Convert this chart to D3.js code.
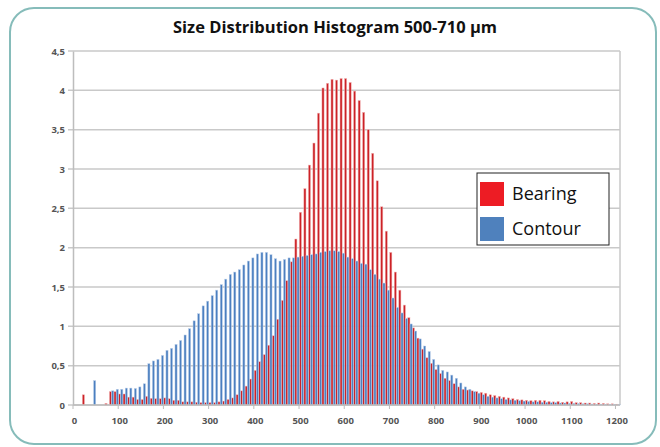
<!DOCTYPE html>
<html>
<head>
<meta charset="utf-8">
<style>
  body { margin: 0; padding: 0; background: #fff; }
  svg text { font-family: "Open Sans", "DejaVu Sans", sans-serif; }
</style>
</head>
<body>
<div id="chart"></div>
<script src="https://cdn.jsdelivr.net/npm/d3@7"></script>
<script>
  // size bins, 0..1200 in steps of 10 µm
  var bins = d3.range(0, 1210, 10);

  var bearing = [
    0, 0, 0.13, 0, 0, 0, 0, 0.02, 0.17, 0.17,
    0.14, 0.14, 0.10, 0.10, 0.07, 0.07, 0.11, 0.085, 0.08, 0.08,
    0.09, 0.08, 0.06, 0.06, 0.04, 0.04, 0.04, 0.035, 0.03, 0.03,
    0.03, 0.03, 0.04, 0.05, 0.07, 0.09, 0.13, 0.18, 0.24, 0.33,
    0.44, 0.55, 0.64, 0.76, 0.88, 1.09, 1.33, 1.58, 1.82, 2.11,
    2.45, 2.75, 3.05, 3.33, 3.71, 4.03, 4.09, 4.14, 4.13, 4.15,
    4.15, 4.10, 3.99, 3.87, 3.72, 3.50, 3.20, 2.85, 2.52, 2.21,
    1.94, 1.69, 1.46, 1.27, 1.11, 0.98, 0.85, 0.71, 0.60, 0.53,
    0.45, 0.40, 0.34, 0.31, 0.27, 0.23, 0.20, 0.19, 0.18, 0.17,
    0.16, 0.15, 0.13, 0.12, 0.11, 0.10, 0.09, 0.08, 0.07, 0.065,
    0.06, 0.055, 0.06, 0.06, 0.055, 0.045, 0.04, 0.045, 0.035, 0.04,
    0.045, 0.03, 0.03, 0.025, 0.025, 0.02, 0.025, 0.02, 0.015, 0.015,
    0.01
  ];

  var contour = [
    0, 0, 0, 0, 0.31, 0, 0, 0, 0.18, 0.20,
    0.20, 0.215, 0.215, 0.21, 0.23, 0.27, 0.525, 0.56, 0.58, 0.63,
    0.695, 0.72, 0.77, 0.82, 0.89, 0.97, 1.07, 1.16, 1.26, 1.32,
    1.39, 1.46, 1.53, 1.60, 1.66, 1.69, 1.72, 1.78, 1.83, 1.87,
    1.92, 1.94, 1.94, 1.91, 1.86, 1.83, 1.85, 1.87, 1.87, 1.88,
    1.89, 1.90, 1.91, 1.92, 1.94, 1.95, 1.96, 1.96, 1.95, 1.93,
    1.88, 1.86, 1.83, 1.80, 1.79, 1.72, 1.66, 1.60, 1.55, 1.46,
    1.36, 1.24, 1.17, 1.10, 1.03, 0.94, 0.84, 0.75, 0.68, 0.58,
    0.51, 0.44, 0.42, 0.38, 0.34, 0.28, 0.23, 0.20, 0.17, 0.15,
    0.13, 0.11, 0.10, 0.09, 0.08, 0.07, 0.065, 0.06, 0.055, 0.05,
    0.045, 0.04, 0.04, 0.035, 0.035, 0.03, 0.03, 0.025, 0.025, 0.02,
    0.02, 0.018, 0.015, 0.015, 0.012, 0.01, 0.01, 0.008, 0.006, 0.005,
    0.005
  ];

  var xTicks = [0, 100, 200, 300, 400, 500, 600, 700, 800, 900, 1000, 1100, 1200];
  var yTicks = [0, 0.5, 1, 1.5, 2, 2.5, 3, 3.5, 4, 4.5];
  var seriesNames = ['Bearing', 'Contour'];
  var seriesColors = ['#ed1c24', '#4f81bd'];

  var width = 660, height = 447;
  var svg = d3.select('#chart').append('svg').attr('width', width).attr('height', height);

  // frame
  svg.append('rect')
    .attr('x', 10).attr('y', 8).attr('width', 646).attr('height', 436)
    .attr('rx', 24).attr('ry', 24)
    .style('fill', '#fff').style('stroke', '#86bcba').style('stroke-width', 2);

  svg.append('text')
    .attr('x', 335).attr('y', 33)
    .attr('text-anchor', 'middle')
    .style('font-size', '16.5px').style('font-weight', 'bold').style('fill', '#111')
    .text('Size Distribution Histogram 500-710 µm');

  var x = d3.scaleBand().domain(bins).range([73, 620]).padding(0);
  var y = d3.scaleLinear().domain([0, 4.5]).range([405, 51]);
  var bw = x.bandwidth();

  // gridlines
  svg.append('g').selectAll('line')
    .data(yTicks)
    .enter()
    .append('line')
    .attr('x1', 68).attr('x2', 620)
    .attr('y1', function(d) { return y(d); })
    .attr('y2', function(d) { return y(d); })
    .style('stroke', '#c9c9c9').style('stroke-width', 1.5);

  // right border of plot area
  svg.append('line')
    .attr('x1', 620).attr('x2', 620).attr('y1', y(4.5)).attr('y2', y(0))
    .style('stroke', '#c9c9c9').style('stroke-width', 1.5);

  // bars
  var barW = bw * 0.47;
  svg.append('g').selectAll('rect')
    .data(bins)
    .enter()
    .append('rect')
    .attr('x', function(d) { return x(d) + 0.3; })
    .attr('y', function(d, i) { return y(bearing[i]); })
    .attr('width', barW)
    .attr('height', function(d, i) { return y(0) - y(bearing[i]); })
    .style('fill', '#cc2227')
    .style('stroke', '#f2b6b6').style('stroke-width', 0.5);

  svg.append('g').selectAll('rect')
    .data(bins)
    .enter()
    .append('rect')
    .attr('x', function(d) { return x(d) + 0.3 + barW + 0.1; })
    .attr('y', function(d, i) { return y(contour[i]); })
    .attr('width', barW)
    .attr('height', function(d, i) { return y(0) - y(contour[i]); })
    .style('fill', '#4b7fc0')
    .style('stroke', '#bcd0ea').style('stroke-width', 0.5);

  // y axis
  var yAxis = d3.axisLeft(y)
    .tickValues(yTicks)
    .tickSize(0)
    .tickPadding(8)
    .tickFormat(function(d) { return String(d).replace('.', ','); });
  var gy = svg.append('g').attr('transform', 'translate(73,0)').call(yAxis);
  gy.select('.domain').style('stroke', '#bdbdbd').style('stroke-width', 1.5);
  gy.selectAll('text').style('font-size', '9.5px').style('font-weight', 'bold').style('fill', '#555')
    .style('font-family', '"Open Sans", sans-serif');

  // x axis
  svg.append('line')
    .attr('x1', 73).attr('x2', 620).attr('y1', y(0)).attr('y2', y(0))
    .style('stroke', '#bdbdbd').style('stroke-width', 1.5);
  svg.append('g').selectAll('line')
    .data(xTicks)
    .enter()
    .append('line')
    .attr('x1', function(d) { return x(d); })
    .attr('x2', function(d) { return x(d); })
    .attr('y1', y(0)).attr('y2', y(0) + 4)
    .style('stroke', '#bdbdbd').style('stroke-width', 1);
  svg.append('g').selectAll('text')
    .data(xTicks)
    .enter()
    .append('text')
    .attr('x', function(d) { return x(d) + 1.5; })
    .attr('y', 424)
    .attr('text-anchor', 'middle')
    .style('font-size', '9.5px').style('font-weight', 'bold').style('fill', '#555')
    .text(function(d) { return d; });

  // legend
  var lg = svg.append('g').attr('transform', 'translate(477,173)');
  lg.append('rect').attr('width', 132).attr('height', 72)
    .style('fill', '#fff').style('stroke', '#222').style('stroke-width', 1);
  lg.selectAll('rect.sw')
    .data(seriesNames)
    .enter()
    .append('rect')
    .attr('class', 'sw')
    .attr('x', 3).attr('y', function(d, i) { return 9 + i * 35; })
    .attr('width', 24).attr('height', 24)
    .style('fill', function(d, i) { return seriesColors[i]; });
  lg.selectAll('text')
    .data(seriesNames)
    .enter()
    .append('text')
    .attr('x', 35).attr('y', function(d, i) { return 27 + i * 35; })
    .style('font-size', '18px').style('fill', '#111')
    .text(function(d) { return d; });
</script>
</body>
</html>
